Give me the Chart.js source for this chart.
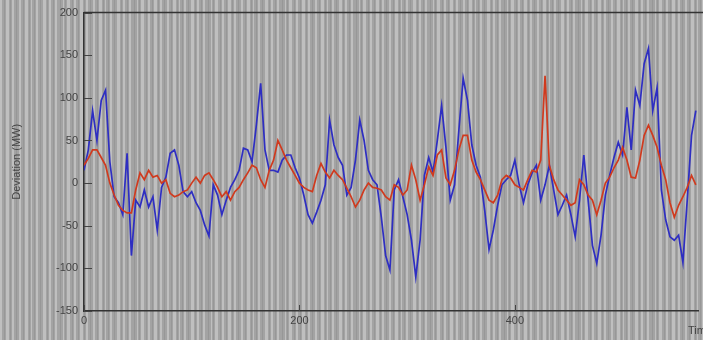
<!DOCTYPE html>
<html><head><meta charset="utf-8">
<script src="https://cdn.jsdelivr.net/npm/chart.js@4/dist/chart.umd.min.js"></script>
<style>html,body{margin:0;padding:0;overflow:hidden;background:#a4a4a4;width:703px;height:340px}canvas{display:block}</style>
</head><body><canvas id="c" width="703" height="340"></canvas>
<script>
const timeValues = [
0,4,8,12,16,20,24,28,32,36,
40,44,48,52,56,60,64,68,72,76,
80,84,88,92,96,100,104,108,112,116,
120,124,128,132,136,140,144,148,152,156,
160,164,168,172,176,180,184,188,192,196,
200,204,208,212,216,220,224,228,232,236,
240,244,248,252,256,260,264,268,272,276,
280,284,288,292,296,300,304,308,312,316,
320,324,328,332,336,340,344,348,352,356,
360,364,368,372,376,380,384,388,392,396,
400,404,408,412,416,420,424,428,432,436,
440,444,448,452,456,460,464,468,472,476,
480,484,488,492,496,500,504,508,512,516,
520,524,528,532,536,540,544,548,552,556,
560,564,568];
const blueValues = [
15,39,85,50,97,109,25,-16,-23,-37,
35,-85,-20,-28,-8,-28,-16,-55,-5,7,
35,39,21,-10,-16,-10,-23,-32,-49,-62,
-2,-14,-37,-20,-5,4,15,41,39,25,
68,117,39,15,15,13,27,33,33,18,
6,-14,-37,-47,-34,-20,-2,74,45,30,
21,-14,-5,27,74,50,15,4,-2,-40,
-85,-102,-8,4,-16,-37,-67,-110,-67,9,
30,13,50,91,42,-20,-2,62,123,97,
45,21,7,-32,-78,-55,-26,-2,4,9,
27,-2,-23,-2,12,21,-20,-2,21,-8,
-37,-26,-14,-37,-63,-20,33,-20,-73,-94,
-61,-14,9,30,48,33,89,39,109,91,
140,158,85,112,-8,-43,-63,-67,-61,-93,
-20,56,85];
const redValues = [
21,29,39,39,30,21,0,-14,-26,-32,
-35,-35,-8,12,4,15,7,9,0,4,
-12,-16,-14,-10,-8,0,7,0,9,12,
4,-5,-16,-10,-20,-10,-5,4,12,21,
18,4,-5,15,27,50,39,27,18,9,
0,-5,-8,-10,9,23,13,6,15,9,
4,-6,-16,-28,-20,-8,0,-5,-6,-8,
-16,-20,-2,-5,-14,-8,21,4,-20,-2,
19,9,33,39,6,-2,15,39,56,56,
27,13,4,-8,-20,-23,-14,4,9,6,
-2,-5,-8,4,15,13,27,126,21,4,
-8,-14,-20,-26,-23,4,-2,-14,-20,-37,
-20,0,7,18,27,42,27,7,6,27,
56,68,56,42,21,4,-23,-40,-26,-16,
-5,9,-2];
const yTickValues = [-150,-100,-50,0,50,100,150,200];
const xTickValues = [0,200,400];
const xTitle = 'Time';
const yTitle = 'Deviation (MW)';

const stripeW = [2,3,2,2,3,1,2,3,2,2,1,3];
const stripeG = [4,3,5,4,3,4,5,3,4,6,3,4];
const bgPlugin = {
  id: 'bg',
  beforeDraw(chart) {
    const ctx = chart.ctx, W = chart.width, H = chart.height;
    ctx.save();
    ctx.fillStyle = '#a3a3a3';
    ctx.fillRect(0, 0, W, H);
    let x = 0, i = 0;
    while (x < W) {
      const w = stripeW[i % stripeW.length], g = stripeG[i % stripeG.length];
      ctx.fillStyle = '#bfbfbf';
      ctx.fillRect(x, 0, w, H);
      ctx.fillStyle = '#979797';
      ctx.fillRect(x + w + Math.floor(g / 2), 0, 1, H);
      x += w + g; i++;
    }
    ctx.restore();
  },
  afterDraw(chart) {
    const ctx = chart.ctx, a = chart.chartArea;
    const ys = chart.scales.y, xs = chart.scales.x;
    ctx.save();
    ctx.strokeStyle = '#333';
    ctx.lineWidth = 1.5;
    ctx.beginPath();
    ctx.moveTo(a.left, a.top); ctx.lineTo(chart.width, a.top);
    ctx.stroke();
    ctx.lineWidth = 1;
    ctx.strokeStyle = '#444';
    ctx.beginPath();
    yTickValues.forEach(v => {
      const py = Math.round(ys.getPixelForValue(v)) + 0.5;
      ctx.moveTo(a.left, py); ctx.lineTo(a.left + 8, py);
    });
    xTickValues.forEach(v => {
      const px = Math.round(xs.getPixelForValue(v)) + 0.5;
      ctx.moveTo(px, a.bottom); ctx.lineTo(px, a.bottom - 6);
    });
    ctx.stroke();
    ctx.fillStyle = '#444';
    ctx.font = '11px "Liberation Sans", Arial, sans-serif';
    ctx.textAlign = 'left';
    ctx.textBaseline = 'middle';
    ctx.fillText(xTitle, 688, 331);
    ctx.restore();
  }
};

new Chart(document.getElementById('c'), {
  type: 'line',
  data: {
    labels: timeValues,
    datasets: [
      { label: 'Blue', data: blueValues, borderColor: '#2e2ec2', borderWidth: 1.7, pointRadius: 0, tension: 0, order: 2 },
      { label: 'Red', data: redValues, borderColor: '#d03a1e', borderWidth: 1.7, pointRadius: 0, tension: 0, order: 1 }
    ]
  },
  options: {
    responsive: false,
    animation: false,
    layout: { padding: { top: 12, right: 5, left: 0, bottom: 0 } },
    plugins: { legend: { display: false }, tooltip: { enabled: false } },
    scales: {
      x: {
        type: 'linear', min: 0, max: 570,
        afterFit(s) { s.height = 29; },
        afterBuildTicks(s) { s.ticks = xTickValues.map(v => ({ value: v })); },
        grid: { drawOnChartArea: false, drawTicks: false },
        border: { display: true, color: '#333', width: 1.5 },
        ticks: { padding: 3, color: '#444', font: { family: '"Liberation Sans", Arial, sans-serif', size: 11 }, maxRotation: 0 }
      },
      y: {
        type: 'linear', min: -150, max: 200,
        afterFit(s) { s.width = 84; },
        afterBuildTicks(s) { s.ticks = yTickValues.map(v => ({ value: v })); },
        grid: { drawOnChartArea: false, drawTicks: false },
        border: { display: true, color: '#333', width: 1.5 },
        ticks: { padding: 6, color: '#444', font: { family: '"Liberation Sans", Arial, sans-serif', size: 11 } },
        title: { display: true, text: yTitle, color: '#444', font: { family: '"Liberation Sans", Arial, sans-serif', size: 11 }, padding: { top: 10, bottom: 0 } }
      }
    }
  },
  plugins: [bgPlugin]
});
</script>
</body></html>
